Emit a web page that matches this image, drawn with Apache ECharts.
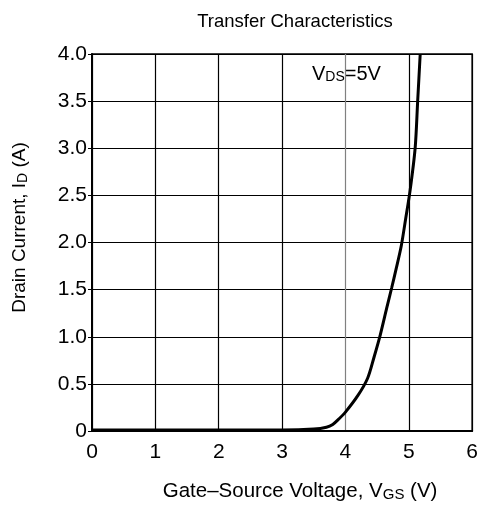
<!DOCTYPE html>
<html><head><meta charset="utf-8">
<script src="https://cdn.jsdelivr.net/npm/echarts@6/dist/echarts.min.js"></script>
<style>html,body{margin:0;padding:0;background:#fff}#c{width:481px;height:507px}</style>
</head><body><div id="c"></div>
<script>
const vgs = [0, 1, 2, 3, 3.5, 3.7, 3.8, 3.9, 4.0, 4.2, 4.35, 4.45, 4.55, 4.65, 4.73, 4.8, 4.88, 4.95, 5.02, 5.1, 5.14, 5.18];
const id  = [0.01, 0.01, 0.01, 0.01, 0.02, 0.04, 0.07, 0.13, 0.2, 0.38, 0.56, 0.78, 1.02, 1.3, 1.52, 1.72, 1.96, 2.25, 2.55, 3.0, 3.5, 4.0];
const xTicks = [0, 1, 2, 3, 4, 5, 6];
const yTicks = [0, 0.5, 1.0, 1.5, 2.0, 2.5, 3.0, 3.5, 4.0];
const FONT = 'Liberation Sans';
const chart = echarts.init(document.getElementById('c'));
chart.setOption({
  backgroundColor: '#fff',
  animation: false,
  title: {
    text: 'Transfer Characteristics', left: 290, top: 7, textAlign: 'center',
    textStyle: {fontFamily: FONT, fontSize: 18.5, fontWeight: 'normal', color: '#000'}
  },
  grid: {left: 92, right: 8, top: 54, bottom: 73, show: true, borderColor: '#000', borderWidth: 1.5},
  xAxis: {
    type: 'value', min: 0, max: 6, interval: 1,
    axisLine: {show: true, lineStyle: {color: '#000', width: 2}},
    axisTick: {show: false},
    splitLine: {show: true, lineStyle: {color: ['#000', '#000', '#000', '#000', '#808080', '#000', '#000'], width: 1.2}},
    axisLabel: {fontFamily: FONT, fontSize: 21, color: '#000', margin: 11,
      formatter: v => xTicks.includes(v) ? String(v) : ''},
    name: 'Gate–Source Voltage, {n|V}{s|GS}{n| (V)}',
    nameLocation: 'middle', nameGap: 50,
    nameTextStyle: {fontFamily: FONT, fontSize: 20.5, color: '#000', padding: [0, 0, 0, 36],
      rich: {n: {fontFamily: FONT, fontSize: 20.5, color: '#000'}, s: {fontFamily: FONT, fontSize: 15, color: '#000', verticalAlign: 'bottom', padding: [6, 0, 0, 0]}}}
  },
  yAxis: {
    type: 'value', min: 0, max: 4, interval: 0.5,
    axisLine: {show: true, lineStyle: {color: '#000', width: 2}},
    axisTick: {show: true, length: 4, lineStyle: {color: '#000'}},
    splitLine: {show: true, lineStyle: {color: '#000', width: 1.2}},
    axisLabel: {fontFamily: FONT, fontSize: 21, color: '#000', margin: 5,
      formatter: v => yTicks.includes(v) ? (v === 0 ? '0' : v.toFixed(1)) : ''},
    name: 'Drain Current, {n|I}{s|D}{n| (A)}',
    nameLocation: 'middle', nameGap: 62, nameRotate: 90,
    nameTextStyle: {fontFamily: FONT, fontSize: 19, color: '#000', padding: [0, 0, 0, 30],
      rich: {n: {fontFamily: FONT, fontSize: 19, color: '#000'}, s: {fontFamily: FONT, fontSize: 14, color: '#000', verticalAlign: 'bottom', padding: [6, 0, 0, 0]}}}
  },
  graphic: [{
    type: 'text', left: 312, top: 64,
    style: {
      text: '{n|V}{s|DS}{n|=5V}',
      rich: {n: {fontFamily: FONT, fontSize: 20, fill: '#000'}, s: {fontFamily: FONT, fontSize: 14, fill: '#000', verticalAlign: 'bottom', padding: [7, 0, 0, 0]}}
    }
  }],
  series: [{
    type: 'line', data: vgs.map((v, i) => [v, id[i]]), showSymbol: false, smooth: 0.3,
    lineStyle: {color: '#000', width: 3}, clip: true
  }]
});
</script></body></html>
